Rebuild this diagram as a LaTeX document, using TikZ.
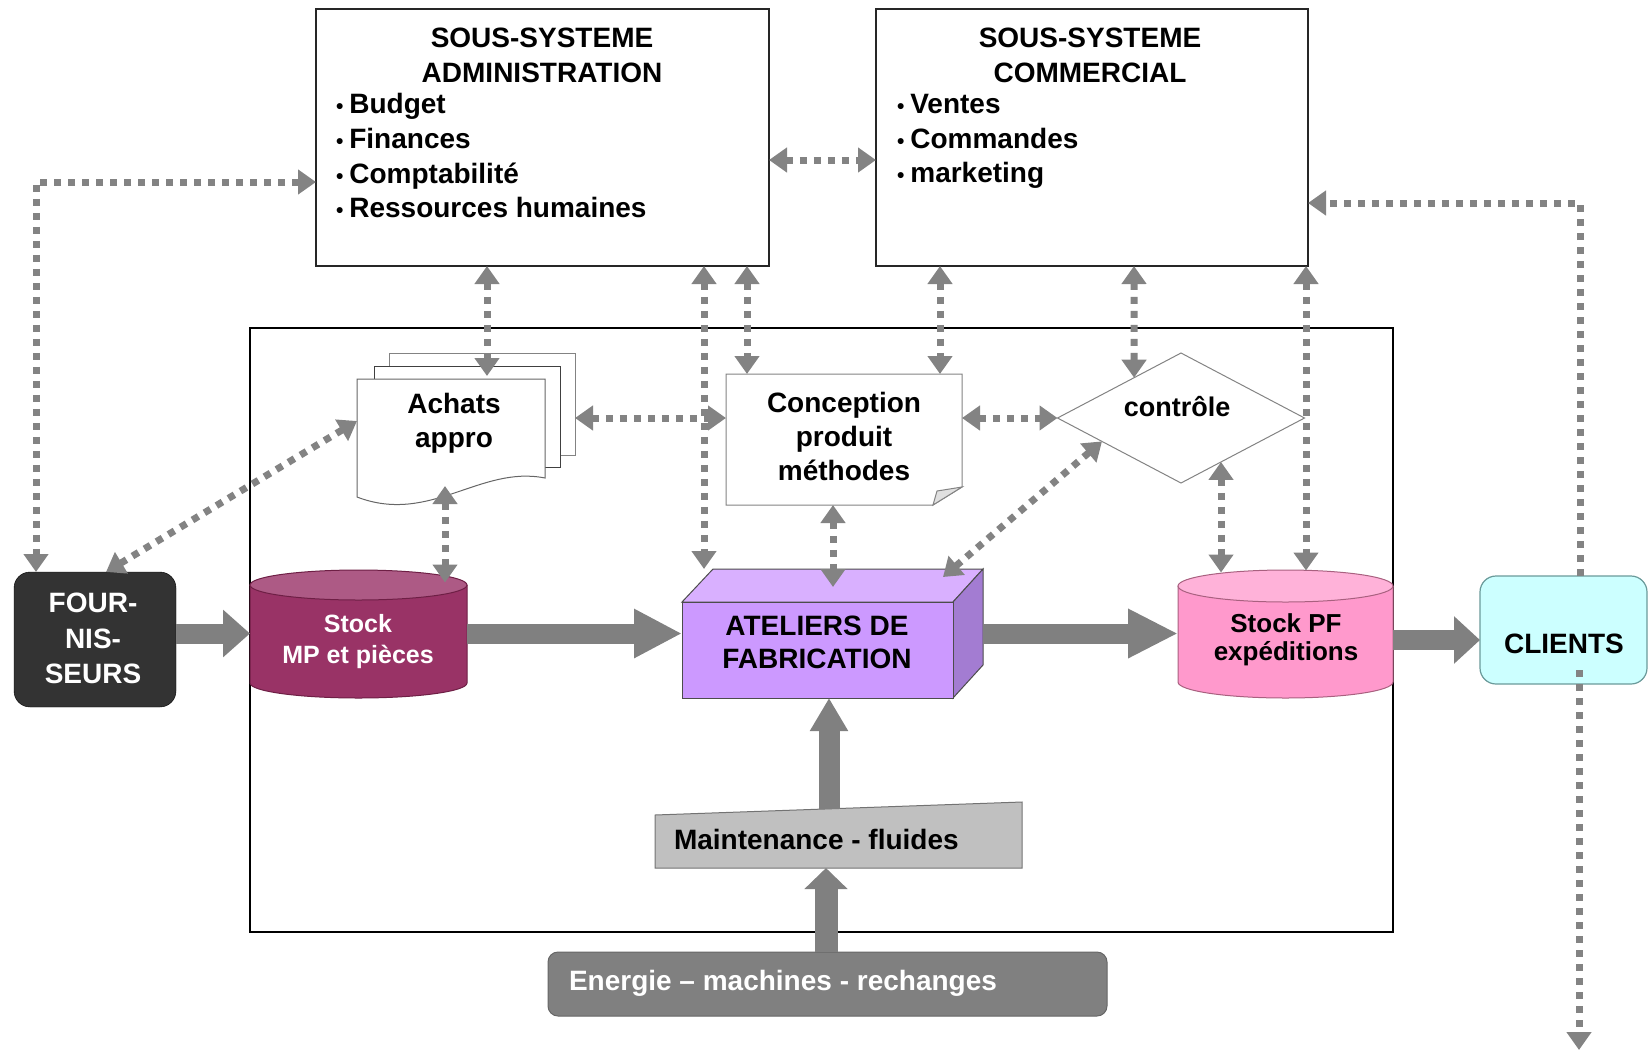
\documentclass[tikz,border=0pt]{standalone}
\usepackage{fontspec}
\setmainfont{Liberation Sans}
\usetikzlibrary{arrows.meta,calc,shapes.geometric}
\definecolor{dgray}{HTML}{838383}
\definecolor{fourc}{HTML}{333333}
\definecolor{plum}{HTML}{993366}
\definecolor{plumtop}{HTML}{AD5A85}
\definecolor{plumdark}{HTML}{6E1F45}
\definecolor{atelc}{HTML}{CC99FF}
\definecolor{ateltop}{HTML}{D9B0FF}
\definecolor{atelside}{HTML}{A37CD2}
\definecolor{pfc}{HTML}{FF99CC}
\definecolor{pftop}{HTML}{FFB2D9}
\definecolor{pfdark}{HTML}{A8607F}
\definecolor{clf}{HTML}{CCFFFF}
\definecolor{clb}{HTML}{6A9A9A}
\definecolor{maintc}{HTML}{C0C0C0}
\definecolor{energc}{HTML}{808080}
\definecolor{barc}{HTML}{808080}
\newcommand{\mybul}{{\fontsize{21}{21}\selectfont •}\hspace{6pt}}
\begin{document}
\begin{tikzpicture}[x=1pt,y=-1pt,
  shp/.style={inner sep=0pt, outer sep=0pt},
  lbl/.style={inner sep=0pt, outer sep=0pt, font=\bfseries\fontsize{28}{34}\selectfont},
  box/.style={draw=black!85, line width=1.8pt, fill=white, inner sep=0pt, outer sep=0pt},
  dotline/.style={draw=dgray, line width=7pt, dash pattern=on 7pt off 7pt},
  dotboth/.style={dotline, {Triangle[length=18pt,width=24pt]}-{Triangle[length=18pt,width=24pt]}},
  dotend/.style={dotline, -{Triangle[length=18pt,width=24pt]}},
  blockarr/.style={draw=barc, line width=20pt}
]
\useasboundingbox (0,0) rectangle (1649,1053);

% plant frame
\node[shp, draw=black, line width=1.5pt, minimum width=1143pt, minimum height=604pt] (usine) at (821.5,630) {};

% subsystems
\node[box, minimum width=453pt, minimum height=257pt] (admin) at (542.5,137.5) {};
\node[box, minimum width=432pt, minimum height=257pt] (comm) at (1092,137.5) {};

% fournisseurs
\node[shp, draw=black, fill=fourc, rounded corners=16pt, minimum width=162pt, minimum height=135pt] (four) at (95,639.5) {};

% stock MP cylinder
\node[shp, minimum width=217pt, minimum height=128pt] (stockmp) at (358.5,633.5) {};
\fill[plum] (250,585) -- (250,683) arc[start angle=180,end angle=360,x radius=108.5pt,y radius=15pt] -- (467,585) -- cycle;
\draw[plumdark, line width=1pt] (250,585) -- (250,683) arc[start angle=180,end angle=360,x radius=108.5pt,y radius=15pt] -- (467,585);
\draw[plumdark, fill=plumtop, line width=1pt] (358.5,585) ellipse[x radius=108.5pt, y radius=15pt];

% ateliers box
\filldraw[fill=ateltop, draw=black!70, line width=1pt] (682,602) -- (713,569) -- (983,569) -- (953,602) -- cycle;
\filldraw[fill=atelside, draw=black!70, line width=1pt] (953,602) -- (983,569) -- (983,665) -- (953,698) -- cycle;
\node[shp, draw=black!70, line width=1pt, fill=atelc, minimum width=271pt, minimum height=96pt] (atel) at (817.5,650) {};

% stock PF cylinder
\node[shp, minimum width=215pt, minimum height=128pt] (stockpf) at (1285.5,633.5) {};
\fill[pfc] (1178,586) -- (1178,682) arc[start angle=180,end angle=360,x radius=107.5pt,y radius=16pt] -- (1393,586) -- cycle;
\draw[pfdark, line width=1pt] (1178,586) -- (1178,682) arc[start angle=180,end angle=360,x radius=107.5pt,y radius=16pt] -- (1393,586);
\draw[pfdark, fill=pftop, line width=1pt] (1285.5,586) ellipse[x radius=107.5pt, y radius=16pt];

% clients
\node[shp, draw=clb, line width=1.2pt, fill=clf, rounded corners=16pt, minimum width=167pt, minimum height=108pt] (clients) at (1563.5,630) {};

% maintenance
\node[shp, minimum width=367pt, minimum height=66pt] (maint) at (838.5,835) {};
\filldraw[fill=maintc, draw=black!55, line width=1pt] (655,815) -- (1022,802) -- (1022,868) -- (655,868) -- cycle;

% energie
\node[shp, draw=black!60, line width=1pt, fill=energc, rounded corners=10pt, minimum width=559pt, minimum height=64pt] (energie) at (827.5,984) {};

% achats document stack
\node[shp, draw=dgray, line width=1pt, fill=white, minimum width=186pt, minimum height=102pt] (achats3) at (482,404) {};
\node[shp, draw=black!75, line width=1pt, fill=white, minimum width=186pt, minimum height=101pt] (achats2) at (467,416.5) {};
\node[shp, minimum width=188pt, minimum height=118pt] (achats) at (451,438) {};
\filldraw[fill=white, draw=black!60, line width=1pt] (357,379) -- (545,379) -- (545,478) .. controls (480,465) and (430,525) .. (357,497) -- cycle;

% conception
\node[shp, minimum width=236pt, minimum height=131pt] (concep) at (844,439.5) {};
\filldraw[fill=white, draw=dgray, line width=1pt] (726,374) -- (962,374) -- (962,487) -- (933,505) -- (726,505) -- cycle;
\filldraw[fill=black!12, draw=dgray, line width=1pt] (933,505) -- (937,491) -- (962,487) -- cycle;

% controle
\node[shp, diamond, draw=dgray, line width=1pt, fill=white, minimum width=247pt, minimum height=130pt] (ctrl) at (1181,418) {};

% ---- texts ----
\node[lbl, anchor=base] (adm1) at (542,47) {SOUS-SYSTEME};
\node[lbl, anchor=base] (adm2) at (542,82) {ADMINISTRATION};
\node[lbl, anchor=base west] (adm3) at (336,113) {\mybul Budget};
\node[lbl, anchor=base west] (adm4) at (336,148) {\mybul Finances};
\node[lbl, anchor=base west] (adm5) at (336,183) {\mybul Comptabilité};
\node[lbl, anchor=base west] (adm6) at (336,217) {\mybul Ressources humaines};

\node[lbl, anchor=base] (com1) at (1090,47) {SOUS-SYSTEME};
\node[lbl, anchor=base] (com2) at (1090,82) {COMMERCIAL};
\node[lbl, anchor=base west] (com3) at (897,113) {\mybul Ventes};
\node[lbl, anchor=base west] (com4) at (897,148) {\mybul Commandes};
\node[lbl, anchor=base west] (com5) at (897,182) {\mybul marketing};

\node[lbl, anchor=base] (ach1) at (454,413) {Achats};
\node[lbl, anchor=base] (ach2) at (454,447) {appro};

\node[lbl, anchor=base] (con1) at (844,412) {Conception};
\node[lbl, anchor=base] (con2) at (844,446) {produit};
\node[lbl, anchor=base] (con3) at (844,480) {méthodes};

\node[lbl, anchor=base, font=\bfseries\fontsize{27}{32}\selectfont] (ctl1) at (1177,416) {contrôle};

\node[lbl, anchor=base, text=white] (fou1) at (93,612) {FOUR-};
\node[lbl, anchor=base, text=white] (fou2) at (93,648) {NIS-};
\node[lbl, anchor=base, text=white] (fou3) at (93,683) {SEURS};

\node[lbl, anchor=base, text=white, font=\bfseries\fontsize{25}{30}\selectfont] (smp1) at (358,632) {Stock};
\node[lbl, anchor=base, text=white, font=\bfseries\fontsize{25}{30}\selectfont] (smp2) at (358,663) {MP et pièces};

\node[lbl, anchor=base] (ate1) at (817,635) {ATELIERS DE};
\node[lbl, anchor=base] (ate2) at (817,668) {FABRICATION};

\node[lbl, anchor=base, font=\bfseries\fontsize{26}{30}\selectfont] (spf1) at (1286,632) {Stock PF};
\node[lbl, anchor=base, font=\bfseries\fontsize{26}{30}\selectfont] (spf2) at (1286,660) {expéditions};

\node[lbl, anchor=base] (cli1) at (1564,653) {CLIENTS};

\node[lbl, anchor=base west] (mai1) at (674,849) {Maintenance - fluides};
\node[lbl, anchor=base west, text=white] (ene1) at (569,990) {Energie – machines - rechanges};

% ---- dotted connectors ----
\draw[dotboth] ($(admin.north west)+(0,173)$) -| ($(four.north west)+(22,0)$);
\draw[dotboth] ($(four.north west)+(92,0)$) -- ($(achats.west)+(0,-17)$);
\draw[dotboth] ($(admin.north east)+(0,151)$) -- ($(comm.north west)+(0,151)$);
\coordinate (a1) at ($(admin.south west)+(171,0)$);
\draw[dotboth] (a1) -- ($(a1 |- achats.north)+(0,-3)$);
\coordinate (a2) at ($(admin.south west)+(388,0)$);
\draw[dotboth] (a2) -- ($(a2 |- atel.north)+(0,-33)$);
\coordinate (a3) at ($(admin.south west)+(431,0)$);
\draw[dotboth] (a3) -- (a3 |- concep.north);
\coordinate (c1) at ($(comm.south west)+(64,0)$);
\draw[dotboth] (c1) -- (c1 |- concep.north);
\coordinate (c2) at ($(comm.south west)+(258,0)$);
\draw[dotboth] (c2) -- ($(ctrl.west)!0.62!(ctrl.north)$);
\coordinate (c3) at ($(comm.south east)+(-2,0)$);
\draw[dotboth] (c3) -- ($(c3 |- stockpf.north)+(0,1)$);
\draw[dotboth] (concep.east |- ctrl.west) -- (ctrl.west);
\draw[dotboth] (achats3.east |- ctrl.west) -- (concep.west |- ctrl.west);
\coordinate (d1) at ($(achats.south west)+(88,-11)$);
\draw[dotboth] (d1) -- ($(d1 |- stockmp.north)+(0,13)$);
\coordinate (d2) at ($(concep.south)+(-11,0)$);
\draw[dotboth] (d2) -- ($(d2 |- atel.north)+(0,-15)$);
\draw[dotboth] ($(atel.north east)+(-10,-25)$) -- ($(ctrl.west)!0.36!(ctrl.south)$);
\coordinate (e1) at ($(ctrl.south)!0.324!(ctrl.east)$);
\draw[dotboth] (e1) -- ($(e1 |- stockpf.north)+(0,3)$);
\draw[dotend] ($(clients.north west)+(100,0)$) |- ($(comm.north east)+(0,194)$);
\coordinate (sortie) at (1579,1050);
\draw[dotend] ($(clients.south west)+(99,-14)$) -- (sortie);

% ---- block arrows ----
\draw[blockarr, -{Triangle[length=27pt,width=46pt]}] (four.east |- stockmp.center) -- (stockmp.west);
\draw[blockarr, -{Triangle[length=48pt,width=46pt]}] (stockmp.east) -- (atel.west |- stockmp.east);
\coordinate (atelR) at ($(atel.east |- stockpf.west)+(30,0)$);
\draw[blockarr, -{Triangle[length=50pt,width=46pt]}] (atelR) -- (stockpf.west);
\draw[blockarr, -{Triangle[length=26pt,width=46pt]}] ($(stockpf.east)+(0,6.5)$) -- ($(clients.west)+(0,10)$);
\coordinate (mt) at (829,809);
\draw[blockarr, line width=21pt, -{Triangle[length=33pt,width=36pt]}] (mt) -- (mt |- atel.south);
\draw[blockarr, line width=23pt, -{Triangle[length=21pt,width=42pt]}] ($(energie.north)+(-1.5,0)$) -- ($(maint.south)+(-12.5,0)$);
\end{tikzpicture}
\end{document}
